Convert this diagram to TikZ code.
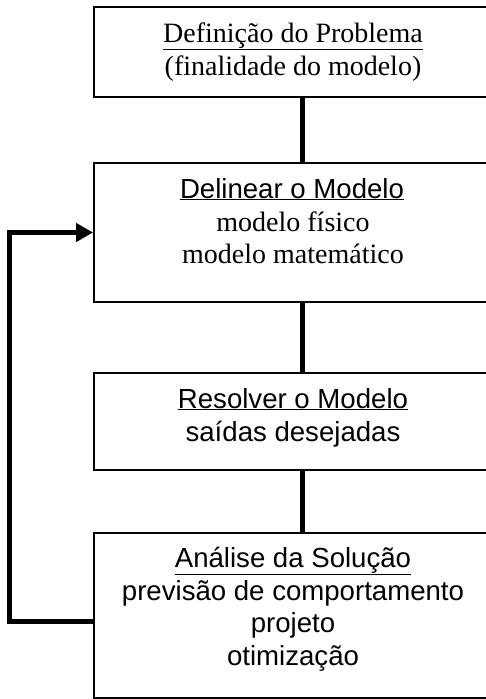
\documentclass[tikz,border=0pt]{standalone}
\usepackage{fontspec}
\setmainfont{Liberation Serif}
\setsansfont{Liberation Sans}
\usetikzlibrary{arrows.meta}
\begin{document}
\begin{tikzpicture}[x=1pt,y=-1pt,
  box/.style={draw=black,line width=1.8pt,fill=white,inner sep=0pt},
  conn/.style={line width=5pt},
  lbl/.style={anchor=base,inner sep=0pt,font=\fontsize{28}{33}\selectfont},
  slbl/.style={anchor=base,inner sep=0pt,font=\fontsize{27.6}{33}\selectfont\sffamily}]
\useasboundingbox (0,0) rectangle (486,699);
\clip (0,0) rectangle (486,699);
\node[box,minimum width=400pt,minimum height=90pt] (b1) at (294,52) {};
\node[box,minimum width=400pt,minimum height=139pt] (b2) at (294,232.5) {};
\node[box,minimum width=400pt,minimum height=97pt] (b3) at (294,421.5) {};
\node[box,minimum width=400pt,minimum height=165pt] (b4) at (294,615.5) {};
\coordinate (c1) at (302,0);
\draw[conn] (b1.south -| c1) -- (b2.north -| c1);
\draw[conn] (b2.south -| c1) -- (b3.north -| c1);
\draw[conn] (b3.south -| c1) -- (b4.north -| c1);
\coordinate (fb) at (9,621);
\draw[conn,-{Triangle[length=17pt,width=18pt]}] (b4.west |- fb) -- (fb) -- (fb |- b2.west) -- (b2.west);
\node[lbl] (t1a) at (293,42) {\underline{Definição do Problema}};
\node[lbl] (t1b) at (293,75.5) {(finalidade do modelo)};
\node[slbl] (t2a) at (292,198) {\underline{Delinear o Modelo}};
\node[lbl] (t2b) at (293,231) {modelo físico};
\node[lbl] (t2c) at (293,263.5) {modelo matemático};
\node[slbl] (t3a) at (293,408) {\underline{Resolver o Modelo}};
\node[slbl] (t3b) at (293,441) {saídas desejadas};
\node[slbl] (t4a) at (293,567) {\underline{Análise da Solução}};
\node[slbl] (t4b) at (293,600) {previsão de comportamento};
\node[slbl] (t4c) at (293,632) {projeto};
\node[slbl] (t4d) at (293,665) {otimização};
\end{tikzpicture}
\end{document}
